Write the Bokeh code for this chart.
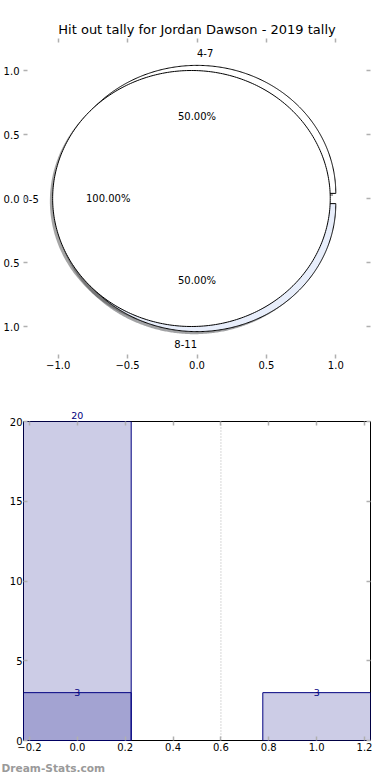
import numpy as np
from bokeh.plotting import figure
from bokeh.models import (ColumnDataSource, FixedTicker, LinearAxis, Span,
                          LabelSet, Title, Range1d)
from bokeh.layouts import column
from bokeh.embed import file_html
from bokeh.resources import INLINE
from bokeh.core.properties import value

# ---------------- data ----------------
TITLE = "Hit out tally for Jordan Dawson - 2019 tally"

outer_labels = ["4-7", "8-11"]
outer_values = [3, 3]
outer_colors = ["#ffffff", "#e8eefb"]

inner_labels = ["0-5"]
inner_values = [20]
inner_colors = ["#ffffff"]

explode = 0.04

pie_ticks = [-1.0, -0.5, 0.0, 0.5, 1.0]
pie_xtick_labels = ["\u22121.0", "\u22120.5", "0.0", "0.5", "1.0"]
pie_ytick_labels = ["1.0", "0.5", "0.0", "0.5", "1.0"]

bar_pos = [0, 1]
bar_values = [20, 3]
overlay_pos = [0]
overlay_values = [3]
split_at = [0.6]

bar_xticks = [-0.2, 0.0, 0.2, 0.4, 0.6, 0.8, 1.0, 1.2]
bar_xtick_labels = ["\u22120.2", "0.0", "0.2", "0.4", "0.6", "0.8", "1.0", "1.2"]
bar_yticks = [0, 5, 10, 15, 20]
bar_ytick_labels = ["0", "5", "10", "15", "20"]

WATERMARK = "Dream-Stats.com"

FONT = "DejaVu Sans"
NAVY = "#000080"
W = 390
H1 = 390
H2 = 390


def shade(hexcol, f=0.3):
    h = hexcol.lstrip("#")
    r, g, b = (int(h[i:i + 2], 16) for i in (0, 2, 4))
    return "#%02x%02x%02x" % (int(r * f), int(g * f), int(b * f))


def pie_parts(values, labels, colors):
    total = float(sum(values))
    a = 0.0
    wed = dict(xs=[], ys=[], fill=[], sxs=[], sys=[], sfill=[])
    txt = dict(x=[], y=[], text=[], align=[])
    pct = dict(x=[], y=[], text=[])
    for v, lab, col in zip(values, labels, colors):
        frac = v / total
        a0, a1 = a, a + 2 * np.pi * frac
        a = a1
        mid = 0.5 * (a0 + a1)
        cx, cy = explode * np.cos(mid), explode * np.sin(mid)
        t = np.linspace(a0, a1, 361)
        xs = cx + np.cos(t)
        ys = cy + np.sin(t)
        if frac < 0.9999:
            xs = np.concatenate([[cx], xs])
            ys = np.concatenate([[cy], ys])
        wed["xs"].append(list(xs))
        wed["ys"].append(list(ys))
        wed["fill"].append(col)
        wed["sxs"].append(list(xs - 0.02))
        wed["sys"].append(list(ys - 0.02))
        wed["sfill"].append(shade(col))
        lx = (explode + 1.1) * np.cos(mid)
        ly = (explode + 1.1) * np.sin(mid)
        txt["x"].append(lx)
        txt["y"].append(ly)
        txt["text"].append(lab)
        txt["align"].append("left" if lx > 0 else "right")
        pct["x"].append((explode + 0.6) * np.cos(mid))
        pct["y"].append((explode + 0.6) * np.sin(mid))
        pct["text"].append("%.2f%%" % (frac * 100))
    return wed, txt, pct


def style_axis(ax, ticks, labels, show=True):
    ax.ticker = FixedTicker(ticks=ticks)
    ax.major_label_overrides = {float(t): l for t, l in zip(ticks, labels)} if show else {float(t): "" for t in ticks}
    ax.major_tick_in = 4
    ax.major_tick_out = 0
    ax.minor_tick_in = 0
    ax.minor_tick_out = 0
    ax.major_tick_line_color = "#b0b0b0"
    ax.major_tick_line_width = 1.5
    ax.axis_line_color = None
    ax.major_label_text_font = FONT
    ax.major_label_text_font_size = "10px" if show else "0px"
    ax.major_label_text_color = "black"
    ax.major_label_standoff = 2 if show else 0


# ---------------- pie figure ----------------
p1 = figure(width=W, height=H1, x_range=Range1d(-1.25, 1.25), y_range=Range1d(-1.25, 1.25),
            output_backend="svg", toolbar_location=None,
            min_border_left=18, min_border_right=20, min_border_top=38, min_border_bottom=32)
p1.title.text = TITLE
p1.title.align = "center"
p1.title.text_font = FONT
p1.title.text_font_size = "13px"
p1.title.text_font_style = "normal"
p1.title.text_color = "black"
p1.title.standoff = 4
p1.grid.visible = False
p1.outline_line_color = None
p1.background_fill_color = "white"
p1.border_fill_color = "white"

style_axis(p1.xaxis[0], pie_ticks, pie_xtick_labels)
style_axis(p1.yaxis[0], pie_ticks, pie_ytick_labels)
p1.yaxis[0].major_label_standoff = 4
p1.add_layout(LinearAxis(), "above")
p1.add_layout(LinearAxis(), "right")
style_axis(p1.above[-1], pie_ticks, pie_xtick_labels, show=False)
style_axis(p1.right[-1], pie_ticks, pie_ytick_labels, show=False)

ow, otxt, opct = pie_parts(outer_values, outer_labels, outer_colors)
iw, itxt, ipct = pie_parts(inner_values, inner_labels, inner_colors)

for w in (ow, iw):
    p1.patches(xs="sxs", ys="sys", fill_color="sfill", fill_alpha=0.5, line_color=None,
               source=ColumnDataSource(w))
for w in (ow, iw):
    p1.patches(xs="xs", ys="ys", fill_color="fill", line_color="black", line_width=1,
               source=ColumnDataSource(dict(xs=w["xs"], ys=w["ys"], fill=w["fill"])))

for t in (otxt, itxt):
    p1.text(x="x", y="y", text="text", text_align="align", text_baseline="middle",
            text_font=value(FONT), text_font_size="10px", text_color="black",
            source=ColumnDataSource(t))
for t in (opct, ipct):
    p1.text(x="x", y="y", text="text", text_align="center", text_baseline="middle",
            text_font=value(FONT), text_font_size="10px", text_color="black",
            source=ColumnDataSource(t))

# ---------------- bar figure ----------------
p2 = figure(width=W, height=H2, x_range=Range1d(-0.225, 1.225), y_range=Range1d(0, 20),
            output_backend="svg", toolbar_location=None,
            min_border_left=18, min_border_right=20, min_border_top=31, min_border_bottom=40)
p2.grid.visible = False
p2.outline_line_color = "black"
p2.outline_line_width = 1
p2.background_fill_color = "white"
p2.border_fill_color = "white"

style_axis(p2.xaxis[0], bar_xticks, bar_xtick_labels)
style_axis(p2.yaxis[0], bar_yticks, bar_ytick_labels)
p2.yaxis[0].major_label_standoff = 1
p2.add_layout(LinearAxis(), "right")
style_axis(p2.right[-1], bar_yticks, bar_ytick_labels, show=False)

# value labels that sit on the top edge of the frame are written in the top axis band
ymax = max(bar_yticks)
all_x = list(bar_pos) + list(overlay_pos)
all_v = list(bar_values) + list(overlay_values)
top_text = {float(x): str(v) for x, v in zip(all_x, all_v) if v >= ymax}
top_ticks = sorted(set(float(t) for t in bar_xticks) | set(top_text))
top_axis = LinearAxis()
p2.add_layout(top_axis, "above")
style_axis(top_axis, top_ticks, [top_text.get(t, "") for t in top_ticks])
top_axis.major_label_text_color = NAVY
top_axis.major_label_text_font_size = "9.5px"
top_axis.major_label_standoff = 3

p2.add_layout(Span(location=split_at[0], dimension="height", line_color="#b0b0b0",
                   line_dash="1 2", line_width=1))

p2.vbar(x=bar_pos, top=bar_values, width=0.45, bottom=0, fill_color=NAVY, fill_alpha=0.2,
        line_color=NAVY, line_width=1)
p2.vbar(x=overlay_pos, top=overlay_values, width=0.45, bottom=0, fill_color=NAVY, fill_alpha=0.2,
        line_color=NAVY, line_width=1)

inside = dict(x=[x for x, v in zip(all_x, all_v) if v < ymax],
              y=[v for v in all_v if v < ymax],
              text=[str(v) for v in all_v if v < ymax])
p2.add_layout(LabelSet(x="x", y="y", text="text", source=ColumnDataSource(inside),
                       text_align="center", text_baseline="middle", text_color=NAVY,
                       text_font=value(FONT), text_font_size="9.5px"))

p2.add_layout(Title(text=WATERMARK, align="left", text_color="#9a9a9a", text_font=FONT,
                    text_font_size="10.6px", text_font_style="bold", offset=-22, standoff=13,
                    text_line_height=1.0),
              "below")

layout = column(p1, p2)
open("out.html", "w").write(file_html(layout, INLINE))
